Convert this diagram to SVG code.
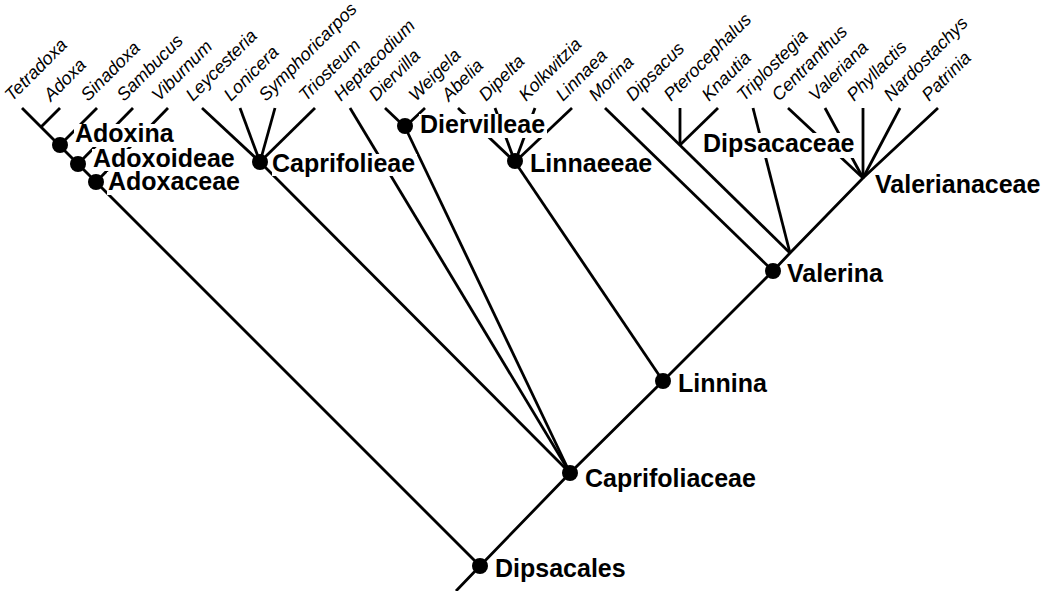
<svg xmlns="http://www.w3.org/2000/svg" width="1052" height="591" viewBox="0 0 1052 591">
<style>
.e{stroke:#000;stroke-width:2.8;fill:none;stroke-linecap:butt}
.t{font-family:"Liberation Sans",Arial,Helvetica,sans-serif;font-style:italic;font-size:18px;fill:#000}
.b{font-family:"Liberation Sans",Arial,Helvetica,sans-serif;font-weight:bold;font-size:25px;fill:#000}
.m{fill:#fff}
.d{fill:#000}
</style>
<rect width="1052" height="591" fill="#fff"/>
<g id="connectors">
<polyline class="e" points="456,591 480,566 570,473 663,381 773,271 790,253 863,178 938,108"/>
<line class="e" x1="22" y1="108" x2="480" y2="566"/>
<line class="e" x1="60" y1="108" x2="41" y2="127"/>
<line class="e" x1="97" y1="108" x2="60" y2="145"/>
<line class="e" x1="133" y1="108" x2="78" y2="164"/>
<line class="e" x1="168" y1="108" x2="96" y2="182"/>
<line class="e" x1="202" y1="108" x2="260" y2="162"/>
<line class="e" x1="240" y1="108" x2="260" y2="162"/>
<line class="e" x1="275" y1="108" x2="260" y2="162"/>
<line class="e" x1="315" y1="108" x2="260" y2="162"/>
<line class="e" x1="260" y1="162" x2="570" y2="473"/>
<line class="e" x1="350" y1="108" x2="570" y2="473"/>
<line class="e" x1="385" y1="108" x2="405" y2="127"/>
<line class="e" x1="425" y1="108" x2="405" y2="127"/>
<line class="e" x1="405" y1="127" x2="570" y2="473"/>
<line class="e" x1="458" y1="108" x2="515" y2="162"/>
<line class="e" x1="495" y1="108" x2="515" y2="162"/>
<line class="e" x1="535" y1="108" x2="515" y2="162"/>
<line class="e" x1="572" y1="108" x2="515" y2="162"/>
<line class="e" x1="515" y1="162" x2="663" y2="381"/>
<line class="e" x1="605" y1="108" x2="773" y2="271"/>
<line class="e" x1="642" y1="108" x2="790" y2="253"/>
<line class="e" x1="680" y1="108" x2="680" y2="145"/>
<line class="e" x1="718" y1="108" x2="680" y2="145"/>
<line class="e" x1="753" y1="108" x2="790" y2="253"/>
<line class="e" x1="788" y1="108" x2="863" y2="178"/>
<line class="e" x1="825" y1="108" x2="863" y2="178"/>
<line class="e" x1="863" y1="108" x2="863" y2="178"/>
<line class="e" x1="900" y1="108" x2="863" y2="178"/>
</g>
<g id="tips">
<text class="t" transform="translate(12,102) rotate(-45)">Tetradoxa</text>
<text class="t" transform="translate(51,102) rotate(-45)">Adoxa</text>
<text class="t" transform="translate(88,102) rotate(-45)">Sinadoxa</text>
<text class="t" transform="translate(124,102) rotate(-45)">Sambucus</text>
<text class="t" transform="translate(159,102) rotate(-45)">Viburnum</text>
<text class="t" transform="translate(193,102) rotate(-45)">Leycesteria</text>
<text class="t" transform="translate(231,102) rotate(-45)">Lonicera</text>
<text class="t" transform="translate(266,102) rotate(-45)">Symphoricarpos</text>
<text class="t" transform="translate(306,102) rotate(-45)">Triosteum</text>
<text class="t" transform="translate(341,102) rotate(-45)">Heptacodium</text>
<text class="t" transform="translate(376,102) rotate(-45)">Diervilla</text>
<text class="t" transform="translate(416,102) rotate(-45)">Weigela</text>
<text class="t" transform="translate(449,102) rotate(-45)">Abelia</text>
<text class="t" transform="translate(486,102) rotate(-45)">Dipelta</text>
<text class="t" transform="translate(526,102) rotate(-45)">Kolkwitzia</text>
<text class="t" transform="translate(563,102) rotate(-45)">Linnaea</text>
<text class="t" transform="translate(596,102) rotate(-45)">Morina</text>
<text class="t" transform="translate(633,102) rotate(-45)">Dipsacus</text>
<text class="t" transform="translate(671,102) rotate(-45)">Pterocephalus</text>
<text class="t" transform="translate(709,102) rotate(-45)">Knautia</text>
<text class="t" transform="translate(744,102) rotate(-45)">Triplostegia</text>
<text class="t" transform="translate(779,102) rotate(-45)">Centranthus</text>
<text class="t" transform="translate(816,102) rotate(-45)">Valeriana</text>
<text class="t" transform="translate(854,102) rotate(-45)">Phyllactis</text>
<text class="t" transform="translate(891,102) rotate(-45)">Nardostachys</text>
<text class="t" transform="translate(929,102) rotate(-45)">Patrinia</text>
</g>
<g id="node-adoxina">
<rect class="m" x="74" y="124" width="101" height="23"/>
<circle class="d" cx="60" cy="145" r="8"/>
<text class="b" x="75" y="142">Adoxina</text>
</g>
<g id="node-adoxoideae">
<rect class="m" x="92" y="149" width="127" height="22"/>
<circle class="d" cx="78" cy="164" r="8"/>
<text class="b" x="93" y="167">Adoxoideae</text>
</g>
<g id="node-adoxaceae">
<rect class="m" x="107" y="172" width="130" height="23"/>
<circle class="d" cx="96" cy="182" r="8"/>
<text class="b" x="108" y="190">Adoxaceae</text>
</g>
<g id="node-caprifolieae">
<rect class="m" x="272" y="154" width="145" height="22"/>
<circle class="d" cx="260" cy="162" r="8"/>
<text class="b" x="272" y="172">Caprifolieae</text>
</g>
<g id="node-diervilleae">
<rect class="m" x="419" y="114" width="128" height="24"/>
<circle class="d" cx="405" cy="126" r="8"/>
<text class="b" x="420" y="133">Diervilleae</text>
</g>
<g id="node-linnaeeae">
<rect class="m" x="529" y="154" width="121" height="23"/>
<circle class="d" cx="515" cy="161" r="8"/>
<text class="b" x="530" y="172">Linnaeeae</text>
</g>
<g id="node-dipsacaceae">
<rect class="m" x="701" y="133" width="156" height="25"/>
<text class="b" x="703" y="152">Dipsacaceae</text>
</g>
<g id="node-valerianaceae">
<rect class="m" x="874" y="175" width="170" height="23"/>
<text class="b" x="875" y="193">Valerianaceae</text>
</g>
<g id="node-valerina">
<circle class="d" cx="773" cy="271" r="8"/>
<text class="b" x="787" y="282">Valerina</text>
</g>
<g id="node-linnina">
<circle class="d" cx="663" cy="381" r="8"/>
<text class="b" x="678" y="392">Linnina</text>
</g>
<g id="node-caprifoliaceae">
<circle class="d" cx="570" cy="473" r="8"/>
<text class="b" x="585" y="487">Caprifoliaceae</text>
</g>
<g id="node-dipsacales">
<circle class="d" cx="480" cy="566" r="8"/>
<text class="b" x="495" y="577">Dipsacales</text>
</g>
</svg>
